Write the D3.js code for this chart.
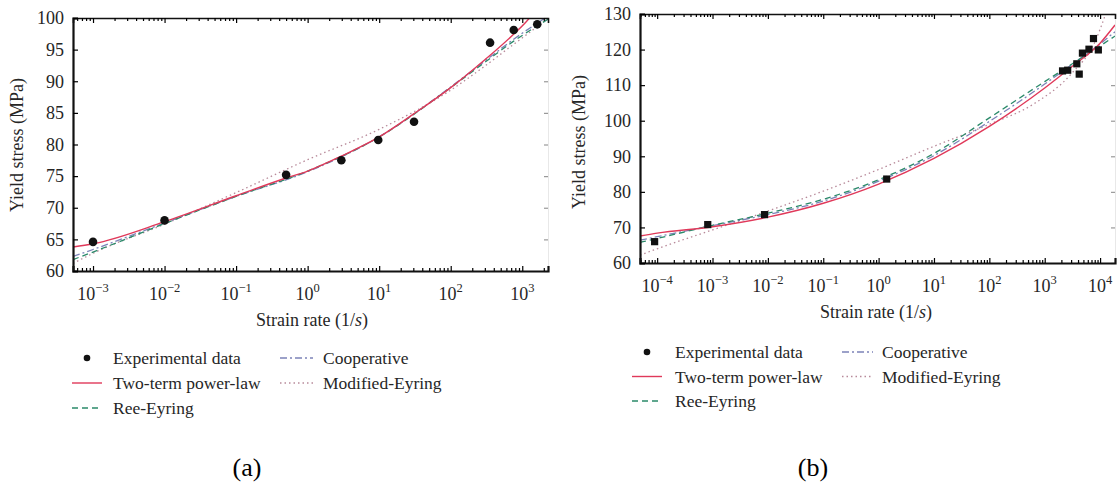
<!DOCTYPE html>
<html><head><meta charset="utf-8">
<script src="https://cdn.jsdelivr.net/npm/d3@7"></script>
<style>
body{margin:0;background:#fff}
svg{display:block}
svg text{font-family:"Liberation Serif","Times New Roman",serif;fill:#262626}
</style>
</head><body>
<svg id="c" width="1120" height="483" font-family="Liberation Serif, serif"></svg>
<script>
// ---------- data ----------
const seriesNames = ["Experimental data", "Two-term power-law", "Ree-Eyring", "Cooperative", "Modified-Eyring"];
const yTitle = "Yield stress (MPa)";
const panelLabels = ["(a)", "(b)"];

// panel (a)
const aYTicks = [60, 65, 70, 75, 80, 85, 90, 95, 100];
const aXExponents = [-3, -2, -1, 0, 1, 2, 3];
const aPoints = [[1e-3, 64.6], [1e-2, 68.0], [0.5, 75.2], [2.96, 77.5], [9.7, 80.7], [30.7, 83.6], [355, 96.1], [760, 98.1], [1620, 99.0]];
const aTwoTerm = [[5.25e-4, 63.8], [1e-3, 64.3], [1e-2, 67.8], [0.1, 71.9], [0.5, 74.7], [1, 75.8], [3, 78.2], [10, 81.2], [30, 84.8], [100, 89.0], [300, 93.4], [750, 97.4], [1260, 100.0], [2290, 104.5]];
const aReeEyring = [[5.25e-4, 61.8], [1e-3, 63.0], [1e-2, 67.5], [0.1, 71.8], [1, 75.8], [10, 81.2], [100, 89.0], [300, 93.0], [750, 96.3], [2290, 99.8]];
const aCooperative = [[5.25e-4, 62.3], [1e-3, 63.4], [1e-2, 67.6], [0.1, 71.8], [1, 75.7], [10, 81.2], [100, 89.1], [300, 93.2], [750, 96.6], [2290, 100.3]];
const aModEyring = [[5.25e-4, 61.2], [1e-3, 62.8], [1e-2, 67.4], [0.1, 72.4], [1, 77.6], [10, 82.4], [100, 88.6], [300, 92.4], [750, 95.8], [2290, 99.9]];

// panel (b)
const bYTicks = [60, 70, 80, 90, 100, 110, 120, 130];
const bXExponents = [-4, -3, -2, -1, 0, 1, 2, 3, 4];
const bPoints = [[9e-5, 66.0], [8.2e-4, 70.8], [8.7e-3, 73.6], [1.4, 83.6], [2100, 114.0], [2600, 114.2], [3800, 116.0], [4200, 113.1], [4800, 119.0], [6300, 120.1], [7600, 123.1], [9300, 119.9]];
const bTwoTerm = [[4.9e-5, 67.6], [1e-4, 68.4], [1e-3, 70.2], [1e-2, 72.9], [0.1, 76.8], [1, 82.2], [10, 89.4], [100, 98.4], [1000, 109.2], [3160, 115.3], [1e4, 121.8], [1.86e4, 126.9]];
const bReeEyring = [[4.9e-5, 65.8], [1e-4, 66.9], [1e-3, 70.6], [1e-2, 74.0], [0.1, 77.9], [1, 83.4], [10, 90.8], [100, 100.8], [1000, 111.0], [3160, 116.0], [1e4, 121.0], [1.86e4, 123.8]];
const bCooperative = [[4.9e-5, 66.4], [1e-4, 67.4], [1e-3, 70.5], [1e-2, 73.6], [0.1, 77.4], [1, 83.0], [10, 90.2], [100, 99.8], [1000, 110.3], [3160, 115.9], [1e4, 121.6], [1.86e4, 125.0]];
const bModEyring = [[4.9e-5, 62.2], [1e-4, 64.0], [1e-3, 69.3], [1e-2, 74.6], [0.1, 80.2], [1, 86.3], [10, 92.8], [100, 99.0], [600, 104.5], [3160, 113.5], [8000, 122.0], [1.26e4, 130.0]];

// ---------- styles ----------
const styles = {
  two: {color: "#e0395a", dash: null, w: 1.4},
  ree: {color: "#2b8a6a", dash: "6,4", w: 1.3},
  coop: {color: "#7c82b8", dash: "7,3,2,3", w: 1.3},
  mod: {color: "#b88a9a", dash: "1.5,3", w: 1.3}
};
const FONT = "Liberation Serif, Times New Roman, serif";

const svg = d3.select("#c");

function drawPanel(cfg) {
  const g = svg.append("g").attr("font-family", FONT);
  const x = d3.scaleLog().domain(cfg.xDomain).range([cfg.x0, cfg.x1]);
  const y = d3.scaleLinear().domain(cfg.yDomain).range([cfg.y1, cfg.y0]);
  const major = cfg.exps.map(e => Math.pow(10, e));
  const lo = Math.floor(Math.log10(cfg.xDomain[0])), hi = Math.ceil(Math.log10(cfg.xDomain[1]));
  const minor = [];
  for (let e = lo; e <= hi; e++) for (let k = 2; k <= 9; k++) {
    const v = k * Math.pow(10, e);
    if (v > cfg.xDomain[0] && v < cfg.xDomain[1]) minor.push(v);
  }
  const cid = "clip" + cfg.id;
  g.append("clipPath").attr("id", cid).append("rect")
    .attr("x", cfg.x0).attr("y", cfg.y0).attr("width", cfg.x1 - cfg.x0).attr("height", cfg.y1 - cfg.y0);

  // right spine (faint) with ticks
  const rAx = g.append("g").attr("transform", `translate(${cfg.x1},0)`)
    .call(d3.axisRight(y).tickValues(cfg.yTicks).tickSize(-4).tickFormat(""));
  rAx.select(".domain").attr("stroke", "#e8e8e8").attr("stroke-width", 1);
  rAx.selectAll(".tick line").attr("stroke", "#999");

  // curves
  const line = d3.line().x(d => x(d[0])).y(d => y(d[1])).curve(d3.curveMonotoneX);
  const cg = g.append("g").attr("clip-path", `url(#${cid})`);
  [["mod", cfg.mod], ["coop", cfg.coop], ["ree", cfg.ree], ["two", cfg.two]].forEach(([k, data]) => {
    const s = styles[k];
    cg.append("path").datum(data).attr("d", line).attr("fill", "none")
      .attr("stroke", s.color).attr("stroke-width", s.w)
      .attr("stroke-dasharray", s.dash);
  });
  // points
  if (cfg.marker === "circle") {
    cg.selectAll("circle.pt").data(cfg.points).join("circle").attr("class", "pt")
      .attr("cx", d => x(d[0])).attr("cy", d => y(d[1])).attr("r", 4.3).attr("fill", "#111");
  } else {
    cg.selectAll("rect.pt").data(cfg.points).join("rect").attr("class", "pt")
      .attr("x", d => x(d[0]) - 3.6).attr("y", d => y(d[1]) - 3.6)
      .attr("width", 7.2).attr("height", 7.2).attr("fill", "#111");
  }

  // bottom axis
  const bAx = g.append("g").attr("transform", `translate(0,${cfg.y1})`)
    .call(d3.axisBottom(x).tickValues(major).tickSize(-5).tickFormat(""));
  g.append("g").attr("transform", `translate(0,${cfg.y1})`)
    .call(d3.axisBottom(x).tickValues(minor).tickSize(-3).tickFormat(""))
    .select(".domain").remove();
  bAx.select(".domain").attr("stroke", "#111").attr("stroke-width", 2.2);
  // top axis
  const tAx = g.append("g").attr("transform", `translate(0,${cfg.y0})`)
    .call(d3.axisTop(x).tickValues(major).tickSize(-5).tickFormat(""));
  g.append("g").attr("transform", `translate(0,${cfg.y0})`)
    .call(d3.axisTop(x).tickValues(minor).tickSize(-3).tickFormat(""))
    .select(".domain").remove();
  tAx.select(".domain").attr("stroke", "#111").attr("stroke-width", 1.6);
  // left axis
  const lAx = g.append("g").attr("transform", `translate(${cfg.x0},0)`)
    .call(d3.axisLeft(y).tickValues(cfg.yTicks).tickSize(-5).tickFormat(""));
  lAx.select(".domain").attr("stroke", "#111").attr("stroke-width", 2.2);
  g.selectAll(".tick line").attr("stroke-width", 1.2);

  // y tick labels
  g.selectAll("text.yt").data(cfg.yTicks).join("text").attr("class", "yt")
    .attr("font-family", FONT)
    .attr("x", cfg.x0 - 9).attr("y", d => y(d)).attr("dy", "0.35em")
    .attr("text-anchor", "end").attr("font-size", 18).text(d => d);
  // x tick labels
  const xt = g.selectAll("text.xt").data(cfg.exps).join("text").attr("class", "xt")
    .attr("font-family", FONT)
    .attr("x", (d, i) => x(major[i])).attr("y", cfg.y1 + 29)
    .attr("text-anchor", "middle").attr("font-size", 18);
  xt.append("tspan").text("10");
  xt.append("tspan").attr("dy", -8).attr("font-size", 12.5).text(d => (d < 0 ? "\u2212" : "") + Math.abs(d));

  // axis titles
  g.append("text").attr("font-family", FONT)
    .attr("transform", `translate(${cfg.ylx},${cfg.yly}) rotate(-90)`)
    .attr("text-anchor", "middle").attr("font-size", 18).text(yTitle);
  const xtit = g.append("text").attr("font-family", FONT).attr("x", cfg.xtx).attr("y", cfg.y1 + 55)
    .attr("text-anchor", "middle").attr("font-size", 18);
  xtit.append("tspan").text("Strain rate (1/");
  xtit.append("tspan").attr("font-style", "italic").text("s");
  xtit.append("tspan").text(")");

  // legend
  const L = cfg.legend;
  const lg = g.append("g").attr("font-size", 17.5).attr("font-family", FONT);
  const items = [
    {col: 0, row: 0, name: seriesNames[0], k: "pt"},
    {col: 0, row: 1, name: seriesNames[1], k: "two"},
    {col: 0, row: 2, name: seriesNames[2], k: "ree"},
    {col: 1, row: 0, name: seriesNames[3], k: "coop"},
    {col: 1, row: 1, name: seriesNames[4], k: "mod"}
  ];
  items.forEach(it => {
    const sx = L.sx[it.col], tx = L.tx[it.col], yy = L.y0 + it.row * L.dy;
    if (it.k === "pt") {
      lg.append("circle").attr("cx", (sx[0] + sx[1]) / 2).attr("cy", yy).attr("r", 3.3).attr("fill", "#111");
    } else {
      const s = styles[it.k];
      lg.append("line").attr("x1", sx[0]).attr("x2", sx[1]).attr("y1", yy).attr("y2", yy)
        .attr("stroke", s.color).attr("stroke-width", s.w).attr("stroke-dasharray", s.dash);
    }
    lg.append("text").attr("x", tx).attr("y", yy).attr("dy", "0.35em").text(it.name);
  });

  // panel label
  svg.append("text").attr("font-family", FONT).attr("x", cfg.labx).attr("y", 476).attr("text-anchor", "middle")
    .attr("font-size", 26).style("fill", "#000").text(cfg.label);
}

drawPanel({
  id: "a", x0: 73, x1: 548, y0: 18, y1: 271,
  xDomain: [5.25e-4, 2290], yDomain: [60, 100], yTicks: aYTicks, exps: aXExponents,
  points: aPoints, marker: "circle",
  two: aTwoTerm, ree: aReeEyring, coop: aCooperative, mod: aModEyring,
  ylx: 23, yly: 145, xtx: 312,
  legend: {sx: [[72, 102], [280, 313]], tx: [113, 323], y0: 358, dy: 25},
  labx: 247, label: panelLabels[0]
});
drawPanel({
  id: "b", x0: 640, x1: 1115, y0: 14, y1: 263,
  xDomain: [4.9e-5, 1.86e4], yDomain: [60, 130], yTicks: bYTicks, exps: bXExponents,
  points: bPoints, marker: "square",
  two: bTwoTerm, ree: bReeEyring, coop: bCooperative, mod: bModEyring,
  ylx: 585, yly: 142, xtx: 876,
  legend: {sx: [[632, 662], [842, 873]], tx: [675, 882], y0: 352, dy: 24.5},
  labx: 813, label: panelLabels[1]
});
</script>
</body></html>
